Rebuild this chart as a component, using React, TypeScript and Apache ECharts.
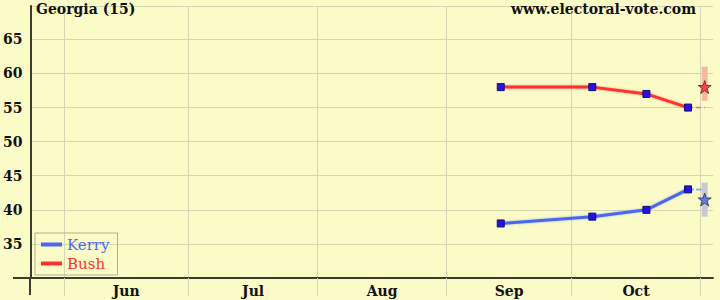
import React, { useEffect, useRef } from "react";
import * as echarts from "echarts";

// ---- data ----
const pollDates = ["2004-09-14", "2004-10-06", "2004-10-19", "2004-10-29"];
const kerryValues = [38, 39, 40, 43];
const bushValues = [58, 58, 57, 55];
const electionDate = "2004-11-02";
const kerryPrediction = 41.5;
const bushPrediction = 58;
const kerryRange = [39, 44];
const bushRange = [56, 61];
const monthStarts = ["2004-06-01", "2004-07-01", "2004-08-01", "2004-09-01", "2004-10-01", "2004-11-01"];
const monthNames = ["Jun", "Jul", "Aug", "Sep", "Oct"];
const axisStart = "2004-05-24";
const axisEnd = "2004-11-04";
const yTicks = [35, 40, 45, 50, 55, 60, 65];
const titleText = "Georgia (15)";
const siteText = "www.electoral-vote.com";

const dayOf = (s: string) => {
  const [y, m, d] = s.split("-").map(Number);
  return (Date.UTC(y, m - 1, d) - Date.UTC(y, 0, 1)) / 86400000 + 1;
};

const FONT = "DejaVu Serif";
const BG = "#fbfbc8";
const GRID = "#d6d6b4";
const AXIS = "#3c3c30";
const KERRY = "#4a68f0";
const BUSH = "#ff3030";

const STAR =
  "path://M50,0 L61.8,35.4 L100,35.4 L69.1,57.3 L80.9,95.1 L50,72.4 L19.1,95.1 L30.9,57.3 L0,35.4 L38.2,35.4 Z";

export default function App() {
  const ref = useRef<HTMLDivElement>(null);
  useEffect(() => {
    document.body.style.margin = "0";
    const chart = echarts.init(ref.current!, undefined, { renderer: "svg" });
    const xs = pollDates.map(dayOf);
    const ed = dayOf(electionDate);
    const starts = monthStarts.map(dayOf);
    const mids = monthNames.map((_, i) => (starts[i] + starts[i + 1]) / 2);
    const marker = {
      symbol: "rect",
      symbolSize: 7,
      itemStyle: { color: "#2a10e8", borderColor: "#10106a", borderWidth: 1 },
    };
    chart.setOption({
      animation: false,
      backgroundColor: BG,
      title: [
        { text: titleText, left: 36, top: 2, padding: 0, textStyle: { fontFamily: FONT, fontSize: 14, fontWeight: "bold", color: "#111" } },
        { text: siteText, right: 24, top: 2, padding: 0, textStyle: { fontFamily: FONT, fontSize: 14, fontWeight: "bold", color: "#111" } },
      ],
      grid: { left: 30, right: 7, top: 6, bottom: 22 },
      legend: {
        left: 35,
        top: 233,
        orient: "vertical",
        itemWidth: 21,
        itemHeight: 4,
        itemGap: 4,
        padding: [4, 8, 4, 6],
        borderColor: "#b0b090",
        borderWidth: 1,
        icon: "rect",
        data: [
          { name: "Kerry", textStyle: { color: KERRY }, itemStyle: { color: KERRY, borderWidth: 0 } },
          { name: "Bush", textStyle: { color: BUSH }, itemStyle: { color: BUSH, borderWidth: 0 } },
        ],
        textStyle: { fontFamily: FONT, fontSize: 15, fontWeight: "normal" },
      },
      xAxis: {
        type: "value",
        min: dayOf(axisStart),
        max: dayOf(axisEnd),
        axisLine: { lineStyle: { color: AXIS, width: 2 } },
        axisTick: { show: true, length: 18, customValues: starts, lineStyle: { color: GRID, width: 1 } },
        splitLine: { show: true, lineStyle: { color: GRID, width: 1 } },
        axisLabel: {
          customValues: mids,
          formatter: (v: number) => {
            const i = mids.findIndex((m) => Math.abs(m - v) < 0.01);
            return i >= 0 ? monthNames[i] : "";
          },
          margin: 6,
          fontFamily: FONT,
          fontSize: 14,
          fontWeight: "bold",
          color: "#111",
        },
      },
      yAxis: {
        type: "value",
        min: 30,
        max: 69.9,
        interval: 5,
        axisLine: { show: true, lineStyle: { color: AXIS, width: 2 } },
        axisTick: { show: false },
        splitLine: { show: true, lineStyle: { color: GRID, width: 1 } },
        axisLabel: {
          customValues: yTicks,
          margin: 8,
          fontFamily: FONT,
          fontSize: 14,
          fontWeight: "bold",
          color: "#111",
        },
      },
      graphic: [
        { type: "line", shape: { x1: 13, y1: 278, x2: 30, y2: 278 }, style: { stroke: AXIS, lineWidth: 2 } },
        { type: "line", shape: { x1: 30, y1: 278, x2: 30, y2: 295 }, style: { stroke: AXIS, lineWidth: 2 } },
      ],
      series: [
        {
          name: "Kerry",
          type: "line",
          data: xs.map((x, i) => [x, kerryValues[i]]),
          lineStyle: { color: KERRY, width: 3, shadowColor: "rgba(74,104,240,0.5)", shadowBlur: 2 },
          color: KERRY,
          ...marker,
          z: 3,
        },
        {
          name: "Bush",
          type: "line",
          data: xs.map((x, i) => [x, bushValues[i]]),
          lineStyle: { color: BUSH, width: 3, shadowColor: "rgba(255,48,48,0.5)", shadowBlur: 2 },
          color: BUSH,
          ...marker,
          z: 3,
        },
        {
          name: "KerryProj",
          type: "line",
          data: [[xs[xs.length - 1], kerryValues[kerryValues.length - 1]], [ed, kerryValues[kerryValues.length - 1]]],
          symbol: "none",
          lineStyle: { color: "#98a8f0", width: 2, type: [6, 2] },
          z: 2,
        },
        {
          name: "BushProj",
          type: "line",
          data: [[xs[xs.length - 1], bushValues[bushValues.length - 1]], [ed, bushValues[bushValues.length - 1]]],
          symbol: "none",
          lineStyle: { color: "#ff6a6a", width: 1.5, type: [5, 3] },
          z: 2,
        },
        {
          name: "KerryRange",
          type: "line",
          data: [[ed, kerryRange[0]], [ed, kerryRange[1]]],
          symbol: "none",
          lineStyle: { color: "#c6cad0", width: 6 },
          z: 2,
        },
        {
          name: "BushRange",
          type: "line",
          data: [[ed, bushRange[0]], [ed, bushRange[1]]],
          symbol: "none",
          lineStyle: { color: "#f5b8a0", width: 6 },
          z: 2,
        },
        {
          name: "KerryStar",
          type: "scatter",
          data: [[ed, kerryPrediction]],
          symbol: STAR,
          symbolSize: 13,
          itemStyle: { color: "#4a6ae0", borderColor: "#303050", borderWidth: 1 },
          z: 4,
        },
        {
          name: "BushStar",
          type: "scatter",
          data: [[ed, bushPrediction]],
          symbol: STAR,
          symbolSize: 13,
          itemStyle: { color: "#ee3030", borderColor: "#602020", borderWidth: 1 },
          z: 4,
        },
      ],
    });
    return () => chart.dispose();
  }, []);
  return <div ref={ref} style={{ position: "fixed", left: 0, top: 0, width: 720, height: 300 }} />;
}
